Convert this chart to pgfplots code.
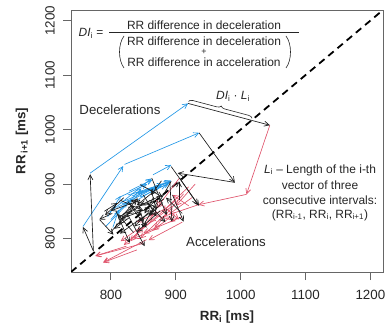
\documentclass[border=0pt]{standalone}
\usepackage{pgfplots}
\pgfplotsset{compat=1.18}
\usepackage{fontspec}
\setmainfont{Liberation Sans}
\usetikzlibrary{arrows.meta,decorations.pathreplacing}
\definecolor{rblue}{HTML}{2297E6}
\definecolor{rred}{HTML}{DF536B}
\pgfplotstableread{
x1 y1 x2 y2
1045 1008 1009 881
1009 881 935 862
935 862 880 840
912 882 868 820
910 830 858 797
895 860 840 810
920 895 880 850
905 910 870 855
880 840 845 800
870 850 830 795
860 830 820 788
910 840 850 810
824 786 776 768
850 791 776 768
855 798 788 756
840 779 788 756
900 870 860 830
925 875 890 845
870 870 905 835
860 845 900 832
885 855 840 830
930 900 900 860
845 820 815 795
875 820 835 800
898 845 865 815
920 860 895 880
}\redtab
\pgfplotstableread{
x1 y1 x2 y2
757 822 819 933
821 936 936 994
768 920 919 1048
865 917 893 935
798 848 862 910
815 866 893 906
832 878 891 904
810 857 868 893
838 884 880 900
792 822 833 873
806 845 850 887
846 876 890 902
828 887 864 908
800 835 826 868
856 890 892 906
803 820 812 853
822 860 847 892
812 875 856 900
826 880 878 896
840 870 870 892
850 885 886 898
795 840 815 878
}\bluetab
\pgfplotstableread{
x1 y1 x2 y2
773 777 768 918
773 777 757 821
919 1048 1045 1008
936 994 991 903
991 903 903 920
893 932 936 860
891 904 894 831
863 911 886 843
906 911 934 862
783 834 804 807
802 846 782 835
845 870 800 851
860 856 815 836
830 861 855 820
850 880 870 841
840 875 850 830
866 860 831 870
876 851 840 812
815 870 850 851
825 846 852 786
808 850 829 792
835 811 810 845
850 840 814 809
895 880 912 831
880 880 845 861
800 812 828 850
845 899 880 876
870 890 840 861
893 905 874 866
828 838 805 818
856 866 884 830
910 846 885 875
820 875 791 843
862 890 870 852
838 858 868 868
872 868 848 820
790 850 810 865
878 906 862 880
905 870 905 905
818 842 840 872
832 852 812 826
848 862 826 845
858 848 836 822
826 868 846 842
866 876 852 846
812 838 836 860
842 832 866 852
880 866 858 842
}\blacktab
\begin{document}
\begin{tikzpicture}
\path[use as bounding box] (0bp,0bp) rectangle (390bp,329bp);
\begin{axis}[
  at={(71bp,57bp)}, anchor=south west,
  scale only axis, width=312bp, height=262bp,
  xmin=738.5, xmax=1219.5, ymin=738.5, ymax=1219.5,
  xtick={800,900,1000,1100,1200}, ytick={800,900,1000,1100,1200},
  tick align=outside, major tick length=8bp,
  axis line style={black!60, line width=0.8bp},
  tick style={black!60, line width=0.8bp},
  xtick pos=bottom, ytick pos=left,
  /pgf/number format/assume math mode=true,
  /pgf/number format/1000 sep={},
  ticklabel style={font=\fontsize{13.4}{16}\selectfont, text=black!85},
  xticklabel style={anchor=center},
  yticklabel style={anchor=center, rotate=90},
  xticklabel shift=15bp, yticklabel shift=13bp,
  clip=true,
]
\addplot[black, line width=1.8bp, dash pattern=on 7bp off 5bp] coordinates {(738.5,738.5) (1219.5,1219.5)};
\addplot[rred, line width=0.65pt, -{Straight Barb[length=5bp,width=5bp]},
  quiver={u=\thisrow{x2}-\thisrow{x1}, v=\thisrow{y2}-\thisrow{y1}}] table[x=x1,y=y1] {\redtab};
\addplot[rblue, line width=0.65pt, -{Straight Barb[length=5bp,width=5bp]},
  quiver={u=\thisrow{x2}-\thisrow{x1}, v=\thisrow{y2}-\thisrow{y1}}] table[x=x1,y=y1] {\bluetab};
\addplot[black!90, line width=0.65pt, -{Straight Barb[length=5bp,width=5bp]},
  quiver={u=\thisrow{x2}-\thisrow{x1}, v=\thisrow{y2}-\thisrow{y1}}] table[x=x1,y=y1] {\blacktab};
\draw[decorate, decoration={brace, amplitude=4bp, raise=1.5bp}, black!85, line width=0.6pt]
  (axis cs:919,1049) -- (axis cs:1017,1018);
\end{axis}
% axis titles
\node[font=\bfseries\fontsize{13.4}{16}\selectfont, text=black!85] at (227bp,12bp) {RR\textsubscript{i} [ms]};
\node[font=\bfseries\fontsize{13.4}{16}\selectfont, text=black!85, rotate=90] at (22bp,188bp) {RR\textsubscript{\,i+1} [ms]};
% formula
\begin{scope}[every node/.style={font=\fontsize{12}{14}\selectfont, text=black!85, inner sep=0pt}]
\node at (91bp,296bp) {\textit{DI}\textsubscript{i} =};
\node at (204bp,304bp) {RR difference in deceleration};
\draw[black!85, line width=0.5pt] (109bp,296.3bp) -- (299bp,296.3bp);
\node at (204bp,288bp) {RR difference in deceleration};
\node[font=\fontsize{9}{10}\selectfont] at (204bp,277.5bp) {+};
\node at (204bp,267bp) {RR difference in acceleration};
\draw[black!85, line width=0.6pt] (124bp,293bp) .. controls (118bp,285bp) and (118bp,269bp) .. (124bp,261bp);
\draw[black!85, line width=0.6pt] (286bp,293bp) .. controls (292bp,285bp) and (292bp,269bp) .. (286bp,261bp);
\node at (233bp,233bp) {\textit{DI}\textsubscript{i} · \textit{L}\textsubscript{i}};
\node at (320bp,159bp) {\textit{L}\textsubscript{i} – Length of the i-th};
\node at (320bp,144bp) {vector of three};
\node at (320bp,129bp) {consecutive intervals:};
\node at (320bp,114bp) {(RR\textsubscript{i-1}, RR\textsubscript{i}, RR\textsubscript{i+1})};
\end{scope}
\node[font=\fontsize{13.3}{16}\selectfont, text=black!85, inner sep=0pt] at (120bp,219bp) {Decelerations};
\node[font=\fontsize{13.3}{16}\selectfont, text=black!85, inner sep=0pt] at (226bp,87bp) {Accelerations};
\end{tikzpicture}
\end{document}
